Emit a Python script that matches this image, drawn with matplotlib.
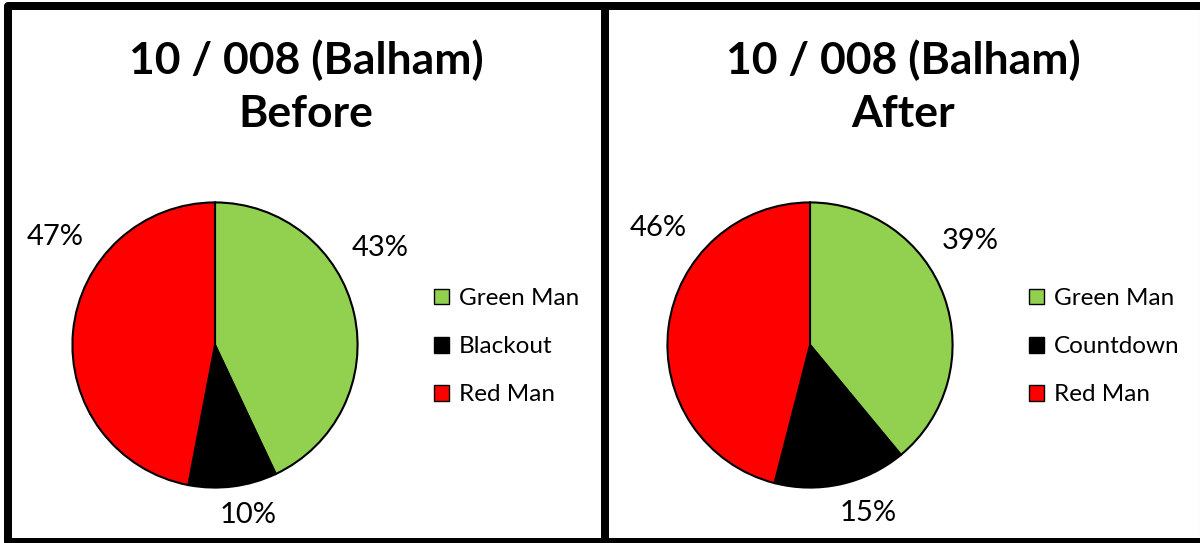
import matplotlib
matplotlib.use("Agg")
import matplotlib.pyplot as plt
from matplotlib.patches import Rectangle, Patch
from matplotlib.lines import Line2D

plt.rcParams['font.family'] = ['Lato', 'DejaVu Sans']

W, H = 1200, 543

titles = ["10 / 008 (Balham)\nBefore", "10 / 008 (Balham)\nAfter"]
labels_before = ["Green Man", "Blackout", "Red Man"]
labels_after = ["Green Man", "Countdown", "Red Man"]
values_before = [43, 10, 47]
values_after = [39, 15, 46]
colors = ["#92D050", "#000000", "#FF0000"]

fig = plt.figure(figsize=(W / 100, H / 100), dpi=100)
fig.patch.set_facecolor("white")

def fx(x):
    return x / W

def fy(y):
    return 1 - y / H

# panel layout (pixel positions in image coords)
panels = [
    dict(cx=215, cy=345, r=144, title_x=306, leg_x=434,
         lab_pos=[(380, 248), (248, 515), (55, 237)],
         vals=values_before, labs=labels_before, title=titles[0]),
    dict(cx=810, cy=345, r=144, title_x=903, leg_x=1029,
         lab_pos=[(970, 241), (868, 513), (658, 228)],
         vals=values_after, labs=labels_after, title=titles[1]),
]

for p in panels:
    r = p["r"]
    ax = fig.add_axes([fx(p["cx"] - r), fy(p["cy"] + r), 2 * r / W, 2 * r / H])
    wedges, _ = ax.pie(p["vals"], colors=colors, startangle=90, counterclock=False,
                       radius=1.0,
                       wedgeprops=dict(edgecolor="black", linewidth=1.5))
    ax.set_xlim(-1.01, 1.01)
    ax.set_ylim(-1.01, 1.01)
    ax.set_aspect("auto")
    ax.axis("off")
    total = sum(p["vals"])
    for v, (lx, ly) in zip(p["vals"], p["lab_pos"]):
        fig.text(fx(lx), fy(ly), f"{round(100 * v / total)}%", ha="center", va="center",
                 fontsize=21, color="black")
    fig.text(fx(p["title_x"]), fy(87), p["title"], ha="center", va="center",
             fontsize=32, fontweight="bold", linespacing=1.4)
    handles = [Patch(facecolor=c, edgecolor="black", linewidth=1) for c in colors]
    fig.legend(handles, p["labs"], loc="upper left",
               bbox_to_anchor=(fx(p["leg_x"]), fy(288)), bbox_transform=fig.transFigure,
               frameon=False, fontsize=17.5, handlelength=0.62, handleheight=0.62,
               handletextpad=0.4, labelspacing=1.12, borderpad=0, borderaxespad=0)

lw = 8 * 0.72
fig.add_artist(Rectangle((fx(7.5), fy(541.5)), fx(605) - fx(7.5), fy(5.5) - fy(541.5),
                         transform=fig.transFigure, fill=False, edgecolor="black",
                         linewidth=lw, joinstyle="round"))
fig.add_artist(Rectangle((fx(605), fy(541.5)), fx(1210) - fx(605), fy(5.5) - fy(541.5),
                         transform=fig.transFigure, fill=False, edgecolor="black",
                         linewidth=lw, joinstyle="round"))
fig.add_artist(Line2D([fx(1199.5), fx(1199.5)], [fy(9), fy(538)], transform=fig.transFigure,
                      color="#BBBBBB", linewidth=0.8))

fig.savefig("out.png", dpi=100, facecolor="white")
